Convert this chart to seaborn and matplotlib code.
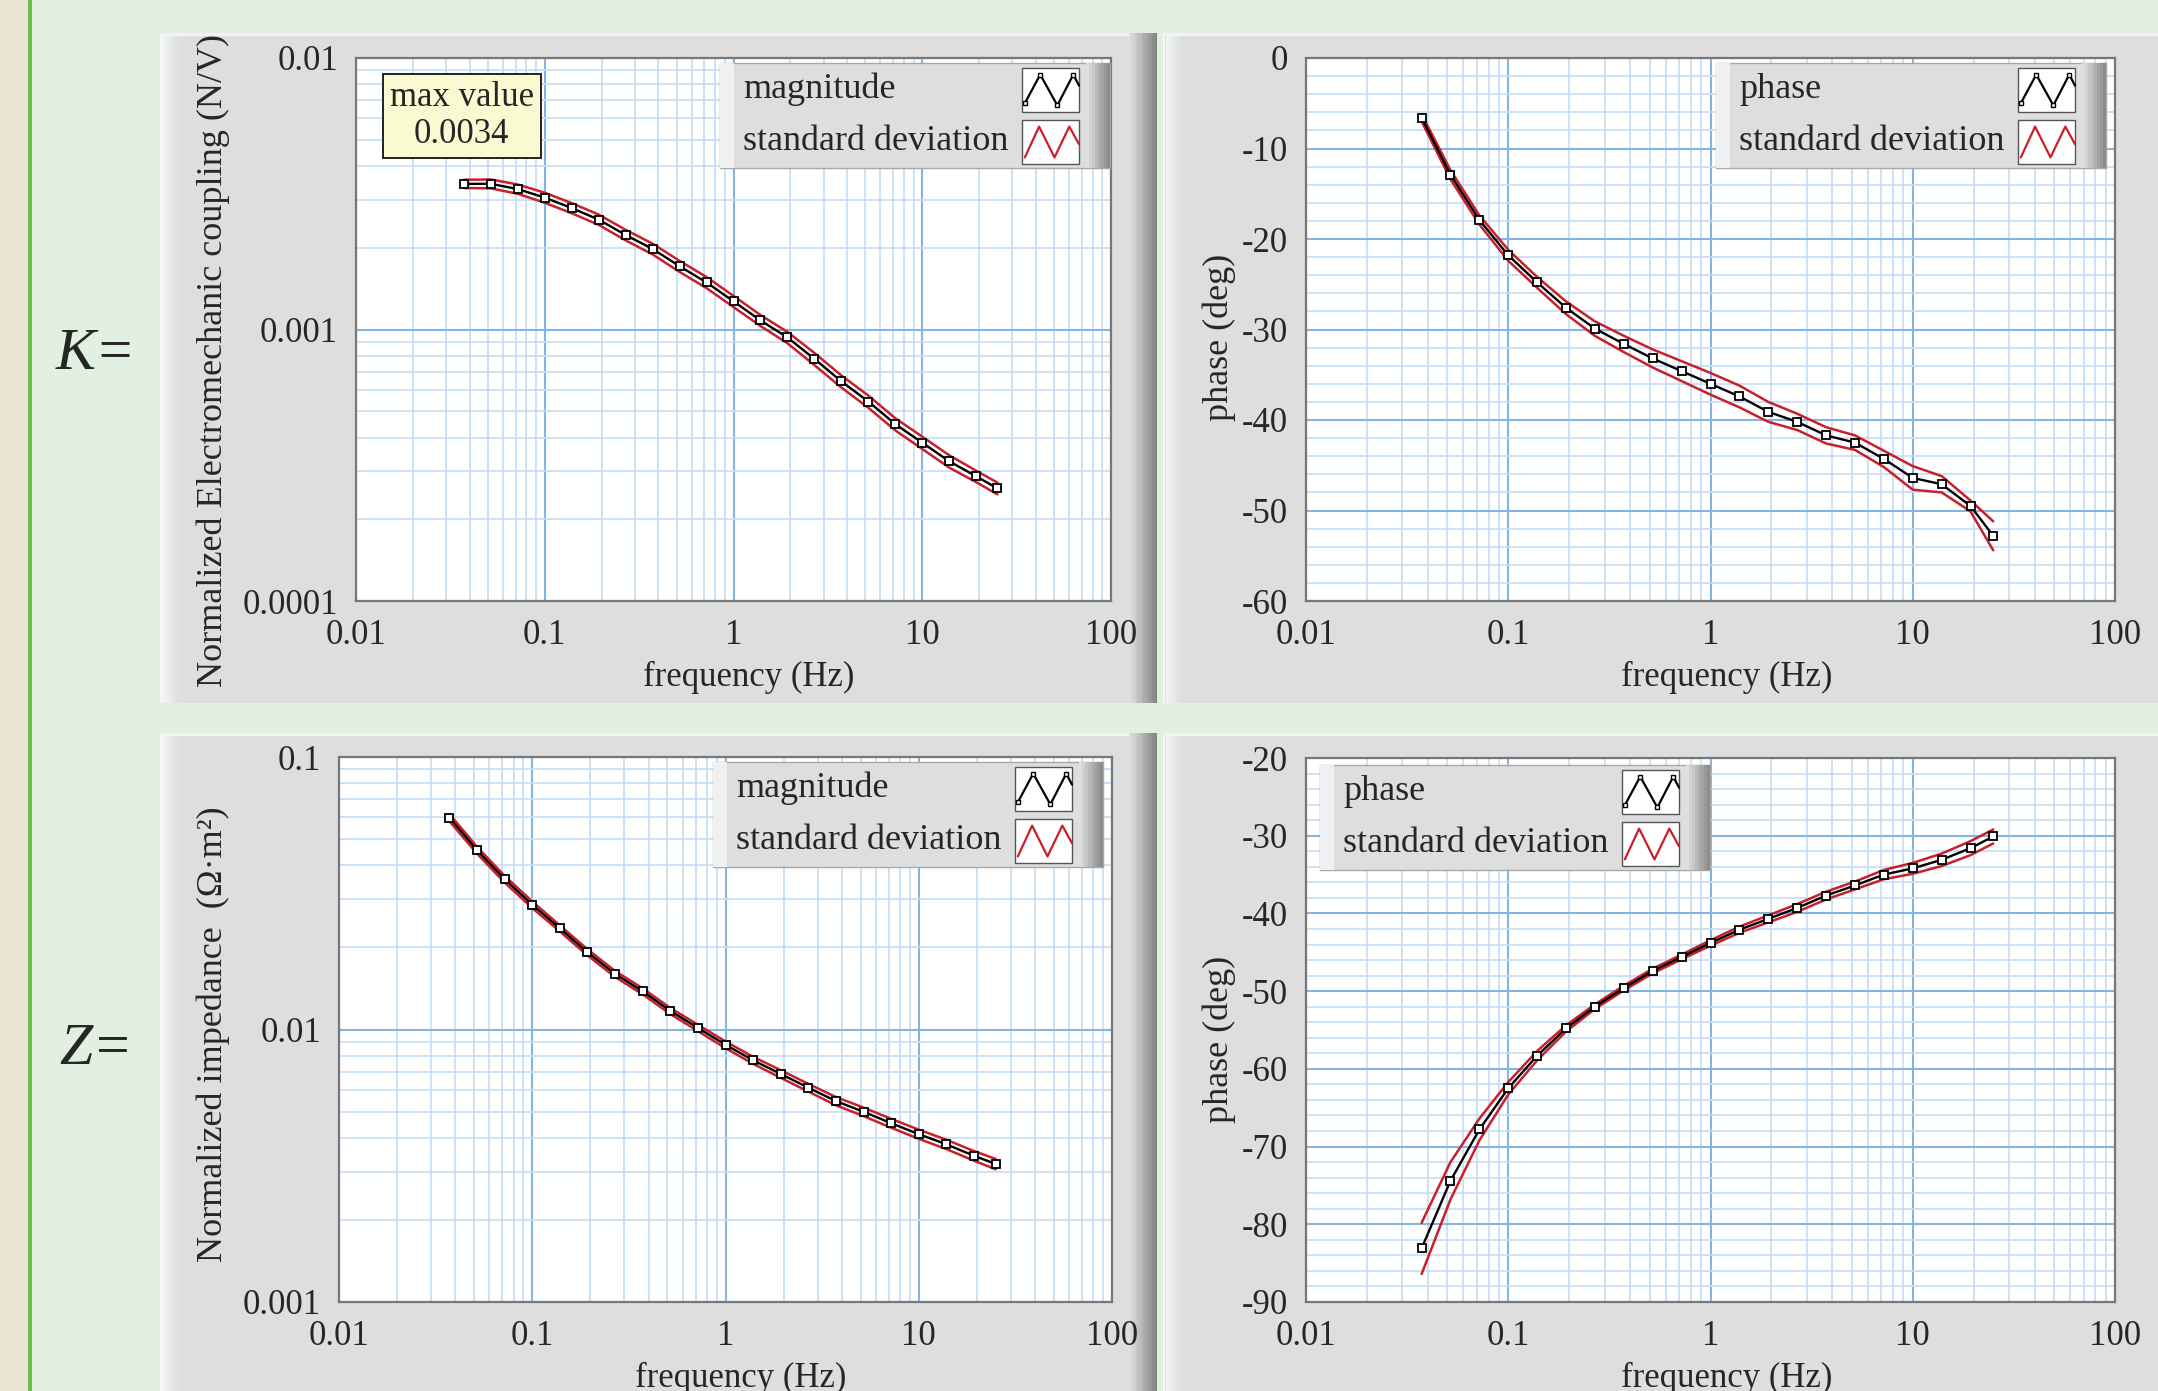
import matplotlib
matplotlib.use("Agg")
import matplotlib.pyplot as plt
from matplotlib.patches import Rectangle
from matplotlib.ticker import LogLocator, MultipleLocator, NullFormatter
import numpy as np
import seaborn as sns

# ---- data (21 frequencies, 7 per decade) ----
freq = [0.0373, 0.0518, 0.0720, 0.100, 0.139, 0.193, 0.268, 0.373, 0.518, 0.720,
        1.00, 1.39, 1.93, 2.68, 3.73, 5.18, 7.20, 10.0, 13.9, 19.3, 25.0]

k_mag = [0.00344, 0.00344, 0.00329, 0.00306, 0.00280, 0.00254, 0.00223, 0.00198,
         0.00171, 0.00149, 0.00127, 0.00108, 0.000935, 0.000780, 0.000644,
         0.000543, 0.000448, 0.000383, 0.000327, 0.000288, 0.000260]
k_mag_sd = [0.00012, 0.00013, 0.00013, 0.00013, 0.00012, 0.00011, 0.00010, 0.00009,
            0.00008, 0.00007, 0.00006, 0.00005, 0.000045, 0.00004, 0.000033,
            0.000028, 0.000023, 0.00002, 0.000017, 0.000014, 0.000013]

k_phase = [-6.6, -12.9, -17.9, -21.8, -24.8, -27.6, -29.9, -31.6, -33.2, -34.6, -36.0,
           -37.4, -39.1, -40.2, -41.7, -42.5, -44.3, -46.4, -47.1, -49.5, -52.8]
k_phase_sd = [0.4, 0.5, 0.5, 0.6, 0.6, 0.7, 0.8, 0.9, 1.0, 1.1, 1.2,
              1.2, 1.1, 0.9, 0.9, 0.8, 0.9, 1.3, 0.9, 0.6, 1.6]

z_mag = [0.0599, 0.0455, 0.0356, 0.0287, 0.0235, 0.0192, 0.0160, 0.0138, 0.0117,
         0.01014, 0.00879, 0.00771, 0.00687, 0.00612, 0.00546, 0.00499, 0.00453,
         0.00413, 0.00379, 0.00344, 0.00321]
z_mag_sd = [0.0018, 0.0013, 0.0010, 0.0008, 0.0006, 0.0005, 0.0004, 0.00035, 0.0003,
            0.00027, 0.00025, 0.00023, 0.00022, 0.0002, 0.00019, 0.00018, 0.00017,
            0.00016, 0.00015, 0.00014, 0.00014]

z_phase = [-83.1, -74.4, -67.8, -62.5, -58.3, -54.8, -52.0, -49.6, -47.4, -45.6, -43.8,
           -42.1, -40.7, -39.3, -37.7, -36.4, -35.0, -34.2, -33.1, -31.6, -30.1]
z_phase_sd = [3.3, 2.4, 1.4, 0.8, 0.6, 0.4, 0.3, 0.3, 0.3, 0.3, 0.35,
              0.4, 0.45, 0.5, 0.5, 0.5, 0.6, 0.7, 0.8, 0.9, 0.9]

x_ticks = [0.01, 0.1, 1, 10, 100]
x_tick_labels = ["0.01", "0.1", "1", "10", "100"]
k_mag_ticks = [0.0001, 0.001, 0.01]
k_mag_labels = ["0.0001", "0.001", "0.01"]
z_mag_ticks = [0.001, 0.01, 0.1]
z_mag_labels = ["0.001", "0.01", "0.1"]
k_phase_ticks = [-60, -50, -40, -30, -20, -10, 0]
z_phase_ticks = [-90, -80, -70, -60, -50, -40, -30, -20]

max_value = 0.0034

# ---- style ----
sns.set_style("white")
plt.rcParams["font.family"] = ["Liberation Serif", "DejaVu Serif"]
plt.rcParams["axes.unicode_minus"] = False

W, H = 2158, 1391
BG = "#e2f0e2"
PANEL = "#dedede"
RED = "#c8202a"
GRID_MINOR = "#c4ddf4"
GRID_MAJOR = "#84b4e2"

fig = plt.figure(figsize=(W / 100, H / 100), dpi=100)
fig.patch.set_facecolor(BG)


def fig_rect(x0, y0, x1, y1, color, z=-2):
    r = Rectangle((x0 / W, 1 - y1 / H), (x1 - x0) / W, (y1 - y0) / H,
                  transform=fig.transFigure, facecolor=color, edgecolor="none", zorder=z)
    fig.add_artist(r)


def gradient(x0, y0, x1, y1, c0, c1, n=12):
    c0 = np.array(matplotlib.colors.to_rgb(c0))
    c1 = np.array(matplotlib.colors.to_rgb(c1))
    xs = np.linspace(x0, x1, n + 1)
    for i in range(n):
        t = i / (n - 1)
        fig_rect(xs[i], y0, xs[i + 1], y1, tuple(c0 + (c1 - c0) * t), z=-1)


def panel(x0, y0, x1, y1, dark_right=True):
    fig_rect(x0, y0, x1, y1, PANEL)
    gradient(x0, y0, x0 + 20, y1, "#f4f6f7", PANEL, n=8)
    fig_rect(x0, y0, x1, y0 + 3, "#f2f4f4", z=-1)
    if dark_right:
        gradient(x1 - 28, y0, x1, y1, PANEL, "#858585", n=12)


# left strip
fig_rect(0, 0, 28, H, "#e8e5d3")
fig_rect(28, 0, 32, H, "#6cbd45")

panel(160, 33, 1157, 703)
panel(1163, 33, W + 40, 703, dark_right=False)
panel(160, 733, 1157, H + 10)
panel(1163, 733, W + 40, H + 10, dark_right=False)

fig.text(96 / W, 1 - 355 / H, "K=", fontsize=43, style="italic",
         ha="center", va="center")
fig.text(96 / W, 1 - 1050 / H, "Z=", fontsize=43, style="italic",
         ha="center", va="center")


def make_ax(x0, y0, x1, y1):
    ax = fig.add_axes([x0 / W, 1 - y1 / H, (x1 - x0) / W, (y1 - y0) / H])
    ax.px = (x0, y0, x1, y1)
    ax.set_facecolor("white")
    ax.set_axisbelow(True)
    for s in ax.spines.values():
        s.set_color("#777777")
        s.set_linewidth(1.6)
    return ax


def draw_legend(ax, left, top, labels):
    ax0, ay0, ax1, ay1 = ax.px
    aw, ah = ax1 - ax0, ay1 - ay0

    def tr(x, y):
        return ((x - ax0) / aw, 1 - (y - ay0) / ah)

    def rect(x0, y0, x1, y1, fc, ec="none", lw=0, z=20):
        bx, by = tr(x0, y1)
        r = Rectangle((bx, by), (x1 - x0) / aw, (y1 - y0) / ah, transform=ax.transAxes,
                      facecolor=fc, edgecolor=ec, linewidth=lw, zorder=z, clip_on=False)
        ax.add_patch(r)

    w, h = 390, 105
    rect(left, top, left + w, top + h, PANEL, ec="#a8a8a8", lw=1.0)
    # bevel: light left, dark right
    rect(left, top, left + 14, top + h, "#eef0f1", z=20.5)
    c0 = np.array(matplotlib.colors.to_rgb(PANEL))
    c1 = np.array(matplotlib.colors.to_rgb("#8c8c8c"))
    for i in range(8):
        t = i / 7
        rect(left + w - 24 + i * 3, top, left + w - 21 + i * 3, top + h,
             tuple(c0 + (c1 - c0) * t), z=20.5)
    for row, lab in enumerate(labels):
        ty = top + 26 + row * 52
        tx, tyf = tr(left + 23, ty)
        ax.text(tx, tyf, lab, transform=ax.transAxes, fontsize=26, ha="left",
                va="center", zorder=21)
        sx0, sy0 = left + 302, top + 5 + row * 52
        sx1, sy1 = sx0 + 57, sy0 + 44
        rect(sx0, sy0, sx1, sy1, "white", ec="#555555", lw=1.0, z=21)
        if row == 0:
            zx = [0.05, 0.32, 0.62, 0.90, 1.0]
            zy = [0.2, 0.85, 0.15, 0.85, 0.6]
            col, mk = "black", "s"
        else:
            zx = [0.05, 0.30, 0.57, 0.83, 1.0]
            zy = [0.15, 0.85, 0.15, 0.85, 0.45]
            col, mk = RED, None
        px = [tr(sx0 + a * (sx1 - sx0), sy1 - b * (sy1 - sy0))[0] for a, b in zip(zx, zy)]
        py = [tr(sx0 + a * (sx1 - sx0), sy1 - b * (sy1 - sy0))[1] for a, b in zip(zx, zy)]
        ax.plot(px, py, transform=ax.transAxes, color=col, lw=1.6, marker=mk,
                markersize=3.5, markerfacecolor="white", markeredgecolor="black",
                markevery=[0, 1, 2, 3], zorder=22, clip_on=False)


def style_axis(ax, ylog, yticks, ylabels, ylim, ylabel):
    ax.set_xscale("log")
    ax.set_xlim(0.01, 100)
    if ylog:
        ax.set_yscale("log")
        ax.yaxis.set_minor_locator(LogLocator(base=10, subs=range(2, 10)))
        ax.yaxis.set_minor_formatter(NullFormatter())
    else:
        ax.yaxis.set_minor_locator(MultipleLocator(2))
    ax.set_ylim(*ylim)
    ax.xaxis.set_minor_locator(LogLocator(base=10, subs=range(2, 10)))
    ax.xaxis.set_minor_formatter(NullFormatter())
    ax.set_xticks(x_ticks, x_tick_labels)
    ax.set_yticks(yticks, ylabels)
    ax.grid(which="minor", color=GRID_MINOR, lw=1.2)
    ax.grid(which="major", color=GRID_MAJOR, lw=1.5)
    ax.tick_params(which="major", direction="out", length=8, width=1.5,
                   color="#333333", labelsize=25, pad=5)
    ax.tick_params(which="minor", length=0)
    ax.set_xlabel("frequency (Hz)", fontsize=25)
    ax.xaxis.set_label_coords(0.52, -0.14)
    ax.xaxis.label.set_va("center")
    ax.set_ylabel(ylabel, fontsize=26)
    ax.yaxis.label.set_va("center")


def plot_series(ax, mean, sd):
    m = np.array(mean)
    s = np.array(sd)
    sns.lineplot(x=freq, y=m + s, ax=ax, color=RED, lw=1.8, zorder=3)
    sns.lineplot(x=freq, y=m - s, ax=ax, color=RED, lw=1.8, zorder=3)
    sns.lineplot(x=freq, y=m, ax=ax, color="black", lw=1.7, marker="s",
                 markersize=5.5, markerfacecolor="white", markeredgecolor="black",
                 markeredgewidth=1.3, zorder=4)


# ---- K magnitude ----
ax = make_ax(356, 58, 1111, 601)
plot_series(ax, k_mag, k_mag_sd)
style_axis(ax, True, k_mag_ticks, k_mag_labels, (0.0001, 0.01),
           "Normalized Electromechanic coupling (N/V)")
ax.yaxis.set_label_coords((213 - 356) / 755, 0.442)
draw_legend(ax, 720, 63, ["magnitude", "standard deviation"])
ax.text(0.14, 0.893, "max value\n" + str(max_value), transform=ax.transAxes,
        fontsize=25, ha="center", va="center", linespacing=1.15, zorder=20,
        bbox=dict(boxstyle="square,pad=0.2", facecolor="#fafad2",
                  edgecolor="#222222", linewidth=1.4))

# ---- K phase ----
ax = make_ax(1306, 58, 2115, 601)
plot_series(ax, k_phase, k_phase_sd)
style_axis(ax, False, k_phase_ticks, [str(v) for v in k_phase_ticks], (-60, 0),
           "phase (deg)")
ax.yaxis.set_label_coords((1219 - 1306) / 809, 0.486)
draw_legend(ax, 1716, 63, ["phase", "standard deviation"])

# ---- Z magnitude ----
ax = make_ax(339, 757, 1112, 1302)
plot_series(ax, z_mag, z_mag_sd)
style_axis(ax, True, z_mag_ticks, z_mag_labels, (0.001, 0.1),
           "Normalized impedance  (Ω·m²)")
ax.yaxis.set_label_coords((213 - 339) / 773, 0.492)
draw_legend(ax, 713, 762, ["magnitude", "standard deviation"])

# ---- Z phase ----
ax = make_ax(1306, 758, 2115, 1302)
plot_series(ax, z_phase, z_phase_sd)
style_axis(ax, False, z_phase_ticks, [str(v) for v in z_phase_ticks], (-90, -20),
           "phase (deg)")
ax.yaxis.set_label_coords((1219 - 1306) / 809, 0.483)
draw_legend(ax, 1320, 765, ["phase", "standard deviation"])

fig.savefig("out.png", dpi=100, facecolor=fig.get_facecolor())
